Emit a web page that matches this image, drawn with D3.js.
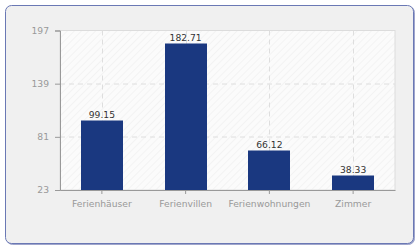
<!DOCTYPE html>
<html>
<head>
<meta charset="utf-8">
<script src="https://cdn.jsdelivr.net/npm/d3@7"></script>
<style>
  body { margin: 0; background: #fff; }
  text { font-family: "DejaVu Sans", sans-serif; }
</style>
</head>
<body>
<svg id="chart"></svg>
<script>
const categories = ["Ferienhäuser", "Ferienvillen", "Ferienwohnungen", "Zimmer"];
const values = [99.15, 182.71, 66.12, 38.33];
const yTicks = [23, 81, 139, 197];

const W = 420, H = 250;
const margin = { top: 30.5, right: 25, bottom: 60, left: 60 };
const innerW = W - margin.left - margin.right;
const innerH = H - margin.top - margin.bottom;

const svg = d3.select("#chart").attr("width", W).attr("height", H);

const defs = svg.append("defs");
const hatch = defs.append("pattern")
    .attr("id", "hatch")
    .attr("patternUnits", "userSpaceOnUse")
    .attr("width", 5).attr("height", 5)
    .attr("patternTransform", "rotate(45)");
hatch.append("rect").attr("width", 5).attr("height", 5).attr("fill", "#fbfbfb");
hatch.append("line").attr("x1", 0).attr("y1", 0).attr("x2", 0).attr("y2", 5)
    .attr("stroke", "#ececec").attr("stroke-width", 1);

const shadow = defs.append("filter").attr("id", "shadow")
    .attr("x", "-5%").attr("y", "-5%").attr("width", "110%").attr("height", "110%");
shadow.append("feDropShadow").attr("dx", 1).attr("dy", 1).attr("stdDeviation", 0.6)
    .attr("flood-color", "#8890c0").attr("flood-opacity", 0.8);

// outer panel
svg.append("rect")
    .attr("x", 5.5).attr("y", 5.5)
    .attr("width", 408).attr("height", 238)
    .attr("rx", 6)
    .attr("fill", "#f0f0f0")
    .attr("stroke", "#6a78b4")
    .attr("stroke-width", 1)
    .attr("filter", "url(#shadow)");

const g = svg.append("g").attr("transform", `translate(${margin.left},${margin.top})`);

const x = d3.scaleBand().domain(categories).range([0, innerW]).padding(0);
const y = d3.scaleLinear().domain([23, 197]).range([innerH, 0]);

// plot background
g.append("rect")
    .attr("width", innerW).attr("height", innerH)
    .attr("fill", "url(#hatch)")
    .attr("stroke", "#dcdcdc");

// grid
g.selectAll(".hgrid")
    .data(yTicks.slice(1, -1))
    .join("line")
    .attr("x1", 0).attr("x2", innerW)
    .attr("y1", d => Math.round(y(d)) + 0.5).attr("y2", d => Math.round(y(d)) + 0.5)
    .attr("stroke", "#dedede").attr("stroke-dasharray", "5,4");

g.selectAll(".vgrid")
    .data(categories)
    .join("line")
    .attr("x1", d => Math.round(x(d) + x.bandwidth() / 2) + 0.5)
    .attr("x2", d => Math.round(x(d) + x.bandwidth() / 2) + 0.5)
    .attr("y1", 0).attr("y2", innerH)
    .attr("stroke", "#dedede").attr("stroke-dasharray", "5,4");

// bars
const barW = x.bandwidth() / 2;
g.selectAll(".bar")
    .data(values)
    .join("rect")
    .attr("x", (d, i) => Math.round(x(categories[i]) + x.bandwidth() / 2 - barW / 2))
    .attr("y", d => Math.round(y(d)))
    .attr("width", Math.round(barW))
    .attr("height", d => innerH - Math.round(y(d)))
    .attr("fill", "#1a3880");

g.selectAll(".val")
    .data(values)
    .join("text")
    .attr("x", (d, i) => x(categories[i]) + x.bandwidth() / 2)
    .attr("y", d => y(d) - 2.5)
    .attr("text-anchor", "middle")
    .attr("font-size", 9.2)
    .attr("fill", "#333")
    .text(d => d.toFixed(2));

// y axis
const yAxis = g.append("g")
    .call(d3.axisLeft(y).tickValues(yTicks).tickSize(5).tickFormat(d3.format("d")));
yAxis.select(".domain").attr("stroke", "#999");
yAxis.selectAll(".tick line").attr("stroke", "#999");
yAxis.selectAll(".tick text").attr("fill", "#999").attr("font-size", 9.2).attr("x", -11)
    .style("font-family", "DejaVu Sans");

// x axis
const xAxis = g.append("g")
    .attr("transform", `translate(0,${innerH})`)
    .call(d3.axisBottom(x).tickSize(4).tickSizeOuter(0));
xAxis.select(".domain").attr("stroke", "#999");
xAxis.selectAll(".tick line").attr("stroke", "#999");
xAxis.selectAll(".tick text").attr("fill", "#999").attr("font-size", 9.2).attr("y", 10.5)
    .style("font-family", "DejaVu Sans");
</script>
</body>
</html>
